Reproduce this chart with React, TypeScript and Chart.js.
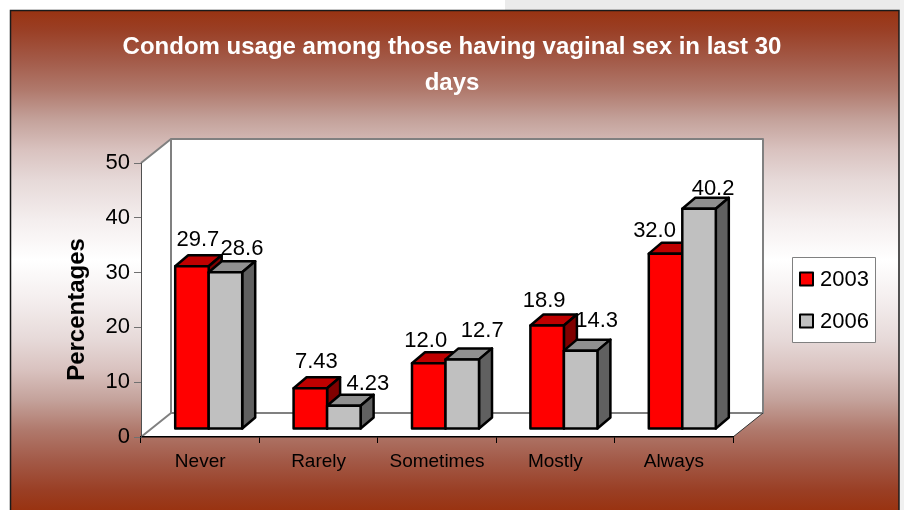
import React, { useEffect, useRef } from "react";
import { Chart, registerables } from "chart.js";

Chart.register(...registerables);

const categories = ["Never", "Rarely", "Sometimes", "Mostly", "Always"];
const values2003 = [29.7, 7.43, 12.0, 18.9, 32.0];
const values2006 = [28.6, 4.23, 12.7, 14.3, 40.2];
const labels2003 = ["29.7", "7.43", "12.0", "18.9", "32.0"];
const labels2006 = ["28.6", "4.23", "12.7", "14.3", "40.2"];
const titleLines = ["Condom usage among those having vaginal sex in last 30", "days"];

const nudges = [
  [[6, -26], [6, -26], [-3, -22], [-3, -24], [-11, -23]],
  [[16.5, -23], [24, -22], [20, -28], [16, -30], [14, -20]],
];
const seriesLabels = [labels2003, labels2006];
const palette = [
  { front: "#ff0000", top: "#bf0000", side: "#800000" },
  { front: "#c0c0c0", top: "#909090", side: "#606060" },
];
const FONT = "'Liberation Sans', Arial, sans-serif";
const WALL = { dx: 30, dy: -24 };
const BAR_SHIFT = { x: 8.5, y: -8 };
const BAR_DEPTH = { x: 13, y: -11 };
const BAR_STROKE = 2.5;

function poly(ctx: CanvasRenderingContext2D, pts: number[][], fill: string | null, stroke: string | null, lw = 1) {
  ctx.beginPath();
  pts.forEach((p, i) => (i ? ctx.lineTo(p[0], p[1]) : ctx.moveTo(p[0], p[1])));
  ctx.closePath();
  if (fill) { ctx.fillStyle = fill; ctx.fill(); }
  if (stroke) { ctx.strokeStyle = stroke; ctx.lineWidth = lw; ctx.lineJoin = "round"; ctx.stroke(); }
}

const scenePlugin = {
  id: "scene",
  afterLayout(chart: any) {
    // the title is centred on the whole canvas, not on the padded layout box
    chart.titleBlock.left = 0;
    chart.titleBlock.right = chart.width;
  },
  beforeDraw(chart: any) {
    const ctx: CanvasRenderingContext2D = chart.ctx;
    const { left, right, top, bottom } = chart.chartArea;
    ctx.save();
    ctx.fillStyle = "#ffffff";
    ctx.fillRect(0, 0, chart.width, chart.height);
    ctx.fillStyle = "#ebebeb";
    ctx.fillRect(505, 0, 399, 10);
    ctx.fillStyle = "#f0f0f0";
    ctx.fillRect(900, 0, 4, 510);
    const g = ctx.createLinearGradient(0, 10, 0, 510);
    g.addColorStop(0, "#993311");
    g.addColorStop(0.04, "#9a3f25");
    g.addColorStop(0.1, "#a35a48");
    g.addColorStop(0.16, "#b0796c");
    g.addColorStop(0.22, "#c4a29b");
    g.addColorStop(0.28, "#d9c2bf");
    g.addColorStop(0.34, "#e6d9d8");
    g.addColorStop(0.42, "#f4eeee");
    g.addColorStop(0.5, "#ffffff");
    g.addColorStop(0.58, "#f4eeee");
    g.addColorStop(0.66, "#e6d9d8");
    g.addColorStop(0.72, "#d9c2bf");
    g.addColorStop(0.78, "#c4a29b");
    g.addColorStop(0.84, "#b0796c");
    g.addColorStop(0.9, "#a35a48");
    g.addColorStop(0.96, "#9a3f25");
    g.addColorStop(1, "#993311");
    ctx.fillStyle = g;
    ctx.fillRect(10, 10, 889, 500);
    ctx.strokeStyle = "#1a1a1a";
    ctx.lineWidth = 1.5;
    ctx.beginPath();
    ctx.moveTo(10.5, 512);
    ctx.lineTo(10.5, 10.5);
    ctx.lineTo(899, 10.5);
    ctx.lineTo(899, 512);
    ctx.stroke();

    const bl = [left + WALL.dx, bottom + WALL.dy];
    const tl = [left + WALL.dx, top + WALL.dy];
    const tr = [right + WALL.dx, top + WALL.dy];
    const br = [right + WALL.dx, bottom + WALL.dy];
    poly(ctx, [[left, bottom], bl, br, [right, bottom]], "#ffffff", null);
    poly(ctx, [[left, top], tl, bl, [left, bottom]], "#ffffff", null);
    poly(ctx, [tl, tr, br, bl], "#ffffff", "#808080", 2);
    ctx.strokeStyle = "#808080";
    ctx.lineWidth = 2;
    ctx.beginPath();
    ctx.moveTo(left, top);
    ctx.lineTo(tl[0], tl[1]);
    ctx.moveTo(left, bottom);
    ctx.lineTo(bl[0], bl[1]);
    ctx.stroke();
    ctx.strokeStyle = "#333333";
    ctx.lineWidth = 1;
    ctx.beginPath();
    ctx.moveTo(right, bottom);
    ctx.lineTo(br[0], br[1]);
    ctx.stroke();
    ctx.restore();
  },
  beforeDatasetsDraw(chart: any) {
    const ctx: CanvasRenderingContext2D = chart.ctx;
    // first series first, so the second series' front covers its side face
    chart.data.datasets.forEach((_: any, di: number) => {
      const c = palette[di];
      chart.getDatasetMeta(di).data.forEach((bar: any) => {
        const half = bar.width / 2;
        const l = bar.x - half + BAR_SHIFT.x;
        const r = bar.x + half + BAR_SHIFT.x;
        const t = bar.y + BAR_SHIFT.y;
        const b = bar.base + BAR_SHIFT.y;
        const { x: dx, y: dy } = BAR_DEPTH;
        poly(ctx, [[l, t], [l + dx, t + dy], [r + dx, t + dy], [r, t]], c.top, "#000000", BAR_STROKE);
        poly(ctx, [[r, t], [r + dx, t + dy], [r + dx, b + dy], [r, b]], c.side, "#000000", BAR_STROKE);
        poly(ctx, [[l, t], [r, t], [r, b], [l, b]], c.front, "#000000", BAR_STROKE);
      });
    });
  },
  beforeDatasetDraw() {
    return false;
  },
  afterDatasetsDraw(chart: any) {
    const ctx: CanvasRenderingContext2D = chart.ctx;
    ctx.save();
    ctx.font = `22px ${FONT}`;
    ctx.fillStyle = "#000000";
    ctx.textAlign = "center";
    ctx.textBaseline = "middle";
    chart.data.datasets.forEach((_: any, di: number) => {
      chart.getDatasetMeta(di).data.forEach((bar: any, i: number) => {
        const [nx, ny] = nudges[di][i];
        ctx.fillText(seriesLabels[di][i], bar.x + BAR_SHIFT.x + nx, bar.y + BAR_SHIFT.y + ny);
      });
    });
    // legend
    const bx = 792.5, by = 257.5, bw = 83, bh = 85;
    ctx.fillStyle = "#ffffff";
    ctx.fillRect(bx, by, bw, bh);
    ctx.strokeStyle = "#808080";
    ctx.lineWidth = 1;
    ctx.strokeRect(bx, by, bw, bh);
    ctx.textAlign = "left";
    ctx.font = `22px ${FONT}`;
    chart.data.datasets.forEach((ds: any, di: number) => {
      const cy = 279.5 + di * 42;
      ctx.fillStyle = palette[di].front;
      ctx.strokeStyle = "#000000";
      ctx.lineWidth = 2;
      ctx.fillRect(800, cy - 7, 13, 13);
      ctx.strokeRect(800, cy - 7, 13, 13);
      ctx.fillStyle = "#000000";
      ctx.fillText(ds.label, 820, cy);
    });
    ctx.restore();
  },
};

export default function App() {
  const ref = useRef<HTMLCanvasElement>(null);
  useEffect(() => {
    document.body.style.margin = "0";
    const chart = new Chart(ref.current as HTMLCanvasElement, {
      type: "bar",
      data: {
        labels: categories,
        datasets: [
          { label: "2003", data: values2003, backgroundColor: palette[0].front, categoryPercentage: 0.566, barPercentage: 1 },
          { label: "2006", data: values2006, backgroundColor: palette[1].front, categoryPercentage: 0.566, barPercentage: 1 },
        ],
      },
      options: {
        animation: false,
        responsive: false,
        layout: { padding: { left: 0, right: 171, top: 0, bottom: 0 } },
        plugins: {
          legend: { display: false },
          tooltip: { enabled: false },
          title: {
            display: true,
            text: titleLines,
            color: "#ffffff",
            font: { family: FONT, size: 24, weight: "bold", lineHeight: 36 / 24 },
            padding: { top: 29, bottom: 62 },
          },
        },
        scales: {
          x: {
            grid: { display: true, drawOnChartArea: false, drawTicks: true, tickLength: 6, color: "#000000", offset: true },
            border: { display: true, color: "#000000", width: 1.5 },
            ticks: { color: "#000000", font: { family: FONT, size: 19 }, padding: 7, maxRotation: 0 },
            afterFit(scale: any) { scale.height = 73; },
          },
          y: {
            min: 0,
            max: 50,
            grid: { display: true, drawOnChartArea: false, drawTicks: true, tickLength: 7, color: "#707070" },
            border: { display: true, color: "#505050", width: 1 },
            ticks: { stepSize: 10, color: "#000000", font: { family: FONT, size: 22 }, padding: 4 },
            title: {
              display: true,
              text: "Percentages",
              color: "#000000",
              font: { family: FONT, size: 24, weight: "bold" },
              padding: { top: 63, bottom: 0 },
            },
            afterFit(scale: any) {
              scale.width = 141;
              if (!scale.__shifted) {
                scale.__shifted = true;
                const drawTitle = scale.drawTitle;
                scale.drawTitle = function () {
                  this.ctx.save();
                  this.ctx.translate(0, 9.5);
                  drawTitle.call(this);
                  this.ctx.restore();
                };
              }
            },
          },
        },
      },
      plugins: [scenePlugin],
    } as any);
    return () => chart.destroy();
  }, []);
  return (
    <div style={{ position: "absolute", left: 0, top: 0, width: 904, height: 510 }}>
      <canvas ref={ref} width={904} height={510} style={{ display: "block" }} />
    </div>
  );
}
